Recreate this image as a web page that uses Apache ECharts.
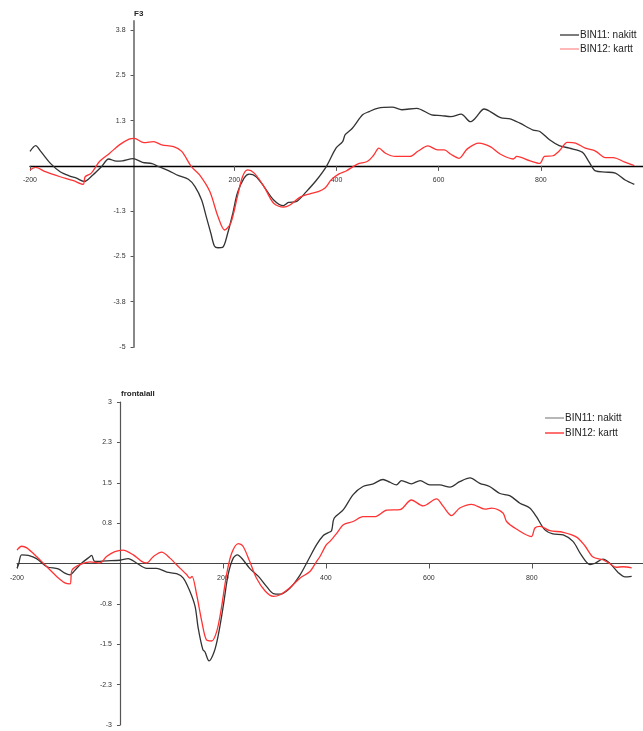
<!DOCTYPE html>
<html>
<head>
<meta charset="utf-8">
<title>F3 / frontalall</title>
<script src="https://cdn.jsdelivr.net/npm/echarts@6/dist/echarts.min.js"></script>
<style>
  html, body { margin: 0; padding: 0; background: #fff; }
  #chart { width: 643px; height: 731px; }
</style>
</head>
<body>
<div id="chart"></div>
<script>
// ERP waveforms, time in ms vs amplitude, two channels
var seriesNames = ['BIN11: nakitt', 'BIN12: kartt'];

var f3Nakitt = [[-200,0.40],[-189,0.56],[-179,0.40],[-160,0.07],[-141,-0.16],[-122,-0.28],[-109,-0.34],[-94,-0.43],[-77,-0.25],[-60,-0.02],[-46,0.19],[-31,0.13],[-19,0.14],[2,0.20],[20,0.10],[39,0.06],[52,-0.02],[71,-0.13],[91,-0.27],[110,-0.37],[123,-0.57],[136,-0.94],[145,-1.40],[154,-1.86],[161,-2.21],[168,-2.26],[177,-2.25],[187,-1.86],[197,-1.31],[206,-0.75],[219,-0.34],[229,-0.23],[242,-0.29],[258,-0.57],[277,-0.94],[296,-1.10],[306,-1.01],[322,-0.98],[341,-0.71],[361,-0.39],[380,-0.02],[399,0.49],[412,0.67],[417,0.86],[431,1.04],[451,1.41],[464,1.50],[480,1.59],[509,1.62],[528,1.55],[557,1.59],[586,1.41],[605,1.39],[624,1.36],[644,1.43],[662,1.22],[672,1.32],[689,1.57],[701,1.50],[721,1.33],[740,1.30],[759,1.18],[785,0.99],[798,0.95],[817,0.72],[836,0.56],[856,0.49],[881,0.38],[894,0.12],[907,-0.14],[926,-0.17],[946,-0.20],[965,-0.39],[983,-0.51]];

var f3Kartt = [[-200,-0.11],[-189,-0.04],[-170,-0.16],[-141,-0.30],[-115,-0.41],[-96,-0.51],[-92,-0.30],[-80,-0.20],[-64,0.12],[-44,0.35],[-25,0.58],[-6,0.74],[4,0.76],[23,0.64],[42,0.67],[58,0.58],[81,0.53],[97,0.40],[116,-0.02],[132,-0.25],[152,-0.71],[168,-1.40],[181,-1.77],[193,-1.58],[206,-0.85],[216,-0.30],[226,-0.11],[239,-0.20],[258,-0.57],[277,-1.03],[296,-1.14],[309,-1.08],[328,-0.87],[348,-0.77],[364,-0.71],[377,-0.62],[390,-0.38],[405,-0.22],[419,-0.14],[441,0.05],[460,0.12],[473,0.30],[483,0.49],[496,0.35],[515,0.26],[544,0.26],[560,0.41],[579,0.55],[598,0.44],[611,0.44],[624,0.32],[640,0.21],[656,0.47],[679,0.63],[701,0.53],[721,0.32],[746,0.19],[753,0.26],[779,0.14],[798,0.07],[807,0.26],[824,0.28],[836,0.41],[852,0.65],[868,0.63],[887,0.49],[907,0.41],[926,0.23],[942,0.23],[962,0.12],[983,0.01]];

var frontNakitt = [[-200,-0.09],[-197,-0.02],[-191,0.16],[-178,0.15],[-162,0.09],[-142,-0.06],[-120,-0.10],[-107,-0.18],[-97,-0.21],[-87,-0.12],[-74,0.01],[-62,0.10],[-55,0.15],[-49,0.04],[-26,0.05],[0,0.06],[16,0.09],[32,0.01],[52,-0.09],[71,-0.09],[91,-0.16],[110,-0.19],[123,-0.27],[136,-0.52],[146,-0.80],[152,-1.20],[161,-1.60],[165,-1.64],[173,-1.81],[183,-1.64],[191,-1.33],[201,-0.77],[210,-0.21],[220,0.10],[228,0.16],[239,0.07],[252,-0.09],[269,-0.24],[285,-0.43],[298,-0.56],[311,-0.57],[330,-0.46],[350,-0.21],[366,0.07],[382,0.35],[395,0.52],[404,0.57],[411,0.61],[416,0.84],[434,1.00],[453,1.28],[472,1.43],[492,1.48],[511,1.56],[524,1.51],[537,1.46],[547,1.54],[566,1.48],[583,1.54],[602,1.46],[621,1.46],[641,1.42],[660,1.52],[680,1.59],[699,1.49],[718,1.43],[738,1.30],[757,1.26],[777,1.12],[796,1.03],[809,0.87],[825,0.63],[841,0.55],[861,0.53],[880,0.41],[896,0.16],[913,-0.02],[922,0.00],[938,0.08],[951,0.01],[968,-0.17],[981,-0.25],[994,-0.24]];

var frontKartt = [[-200,0.25],[-191,0.32],[-181,0.29],[-162,0.13],[-142,-0.06],[-123,-0.24],[-107,-0.36],[-97,-0.38],[-93,-0.12],[-78,-0.02],[-58,0.03],[-39,0.01],[-26,0.13],[-10,0.22],[6,0.25],[26,0.16],[42,0.04],[52,0.01],[65,0.13],[81,0.21],[97,0.10],[117,-0.09],[129,-0.20],[136,-0.27],[140,-0.24],[149,-0.58],[159,-1.08],[168,-1.42],[178,-1.44],[188,-1.26],[197,-0.83],[207,-0.21],[217,0.19],[230,0.37],[239,0.32],[252,0.04],[265,-0.27],[282,-0.51],[298,-0.61],[311,-0.58],[330,-0.45],[350,-0.27],[369,-0.15],[382,0.04],[388,0.12],[401,0.35],[408,0.41],[421,0.56],[434,0.72],[453,0.78],[472,0.87],[495,0.87],[518,0.99],[544,1.00],[566,1.18],[589,1.07],[615,1.20],[628,1.06],[644,0.89],[660,1.03],[683,1.10],[709,1.01],[722,1.03],[744,0.94],[751,0.78],[770,0.64],[799,0.50],[806,0.66],[816,0.69],[835,0.61],[861,0.58],[887,0.49],[903,0.33],[919,0.12],[938,0.07],[951,0.00],[964,-0.07],[977,-0.06],[994,-0.08]];

// tick positions
var xTicks = [-200, 200, 400, 600, 800];
var f3YTicks = [-5, -3.75, -2.5, -1.25, 1.25, 2.5, 3.75];
var frontYTicks = [-3, -2.25, -1.5, -0.75, 0.75, 1.5, 2.25, 3];

// panel layout: grid boxes and the pixel offset that puts each axis through zero
var panels = [
  { left: 30, right: -8.5, top: 21, height: 326, xMax: 1000, yMin: -5, yMax: 4 },
  { left: 17, right: 0, top: 402, height: 323, xMax: 1016, yMin: -3, yMax: 3 }
];

function fmt1(v) {
  var s = v < 0 ? -1 : 1;
  var r = s * Math.round(Math.abs(v) * 10) / 10;
  return String(r);
}

var FONT = 'Liberation Sans, Arial, sans-serif';
var W = 643;

function xAxisCfg(i, lineColor, lineWidth) {
  var p = panels[i];
  // distance from grid bottom up to the zero level
  var zeroUp = p.height * (0 - p.yMin) / (p.yMax - p.yMin);
  return {
    type: 'value', gridIndex: i, min: -200, max: p.xMax, position: 'bottom', offset: -zeroUp,
    axisLine: { show: true, onZero: false, lineStyle: { color: lineColor, width: lineWidth } },
    axisTick: { show: true, customValues: xTicks, length: 5, lineStyle: { color: '#555', width: 1 } },
    axisLabel: { customValues: xTicks, fontSize: 7, color: '#333', margin: 11, fontFamily: FONT },
    splitLine: { show: false }
  };
}

function yAxisCfg(i, ticks, lineColor, lineWidth) {
  var p = panels[i];
  var width = W - p.left - p.right;
  // distance from grid left to time zero
  var zeroRight = width * (0 - (-200)) / (p.xMax - (-200));
  return {
    type: 'value', gridIndex: i, min: p.yMin, max: p.yMax, position: 'left', offset: -zeroRight,
    axisLine: { show: true, onZero: false, lineStyle: { color: lineColor, width: lineWidth } },
    axisTick: { show: true, customValues: ticks, length: 3, lineStyle: { color: '#555', width: 1 } },
    axisLabel: { customValues: ticks, fontSize: 7, color: '#333', margin: 8, fontFamily: FONT,
                 formatter: function (v) { return fmt1(v); } },
    splitLine: { show: false }
  };
}

function lineSeries(name, data, color, i) {
  return {
    type: 'line', name: name, data: data, xAxisIndex: i, yAxisIndex: i,
    showSymbol: false, symbol: 'none', smooth: 0.3,
    lineStyle: { color: color, width: 1.3 }, itemStyle: { color: color },
    animation: false, z: 3
  };
}

function legendCfg(left, top, gap, names, colors) {
  return {
    orient: 'vertical', left: left, top: top, itemGap: gap,
    icon: 'rect', itemWidth: 19, itemHeight: 1.4,
    textStyle: { fontSize: 10, color: '#222', fontFamily: FONT, padding: [0, 0, 0, -4] },
    data: [
      { name: names[0], itemStyle: { color: colors[0] } },
      { name: names[1], itemStyle: { color: colors[1] } }
    ],
    formatter: function (n) { return n === names[0] ? seriesNames[0] : seriesNames[1]; },
    selectedMode: false
  };
}

var chart = echarts.init(document.getElementById('chart'), null, { renderer: 'canvas' });
chart.setOption({
  backgroundColor: '#ffffff',
  animation: false,
  title: [
    { text: 'F3', left: 129, top: 5, textStyle: { fontSize: 8, fontWeight: 'bold', color: '#222', fontFamily: FONT } },
    { text: 'frontalall', left: 116, top: 385, textStyle: { fontSize: 8, fontWeight: 'bold', color: '#222', fontFamily: FONT } }
  ],
  legend: [
    legendCfg(555, 25, 4, ['f3a', 'f3b'], ['#444', '#ff9a9a']),
    legendCfg(540, 408, 5, ['fa', 'fb'], ['#999', '#ff3333'])
  ],
  grid: panels.map(function (p) {
    return { left: p.left, right: p.right, top: p.top, height: p.height };
  }),
  xAxis: [
    xAxisCfg(0, '#000', 1.3),
    xAxisCfg(1, '#444', 1.1)
  ],
  yAxis: [
    yAxisCfg(0, f3YTicks, '#888', 2),
    yAxisCfg(1, frontYTicks, '#555', 1.2)
  ],
  series: [
    lineSeries('f3a', f3Nakitt, '#333333', 0),
    lineSeries('f3b', f3Kartt, '#ff3333', 0),
    lineSeries('fa', frontNakitt, '#333333', 1),
    lineSeries('fb', frontKartt, '#ff3333', 1)
  ]
});
</script>
</body>
</html>
